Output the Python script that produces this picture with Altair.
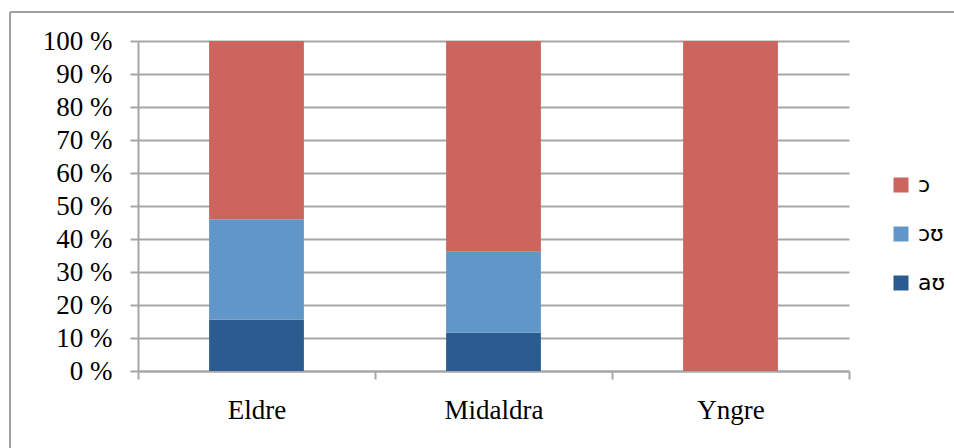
import altair as alt
import pandas as pd

# Age groups and the share of each vowel variant (percent of tokens)
groups = ["Eldre", "Midaldra", "Yngre"]
variants = ["aʊ", "ɔʊ", "ɔ"]
share_au = [15.5, 11.6, 0.0]
share_ou = [30.5, 24.5, 0.0]
share_o = [54.0, 63.9, 100.0]
colors = ["#2A5C8F", "#6196C9", "#CB655E"]
y_ticks = [0, 10, 20, 30, 40, 50, 60, 70, 80, 90, 100]

rows = []
for i, g in enumerate(groups):
    for v, vals in zip(variants, [share_au, share_ou, share_o]):
        rows.append({"gruppe": g, "variant": v, "andel": vals[i], "rekkefolge": variants.index(v)})
df = pd.DataFrame(rows)

serif = "Liberation Serif"
grid_gray = "#A6A6A6"

bars = alt.Chart(df).mark_bar(width=alt.RelativeBandSize(0.4)).encode(
    x=alt.X(
        "gruppe:N",
        sort=groups,
        title=None,
        scale=alt.Scale(paddingInner=0, paddingOuter=0),
        axis=alt.Axis(
            labelAngle=0,
            labelFont=serif,
            labelFontSize=27,
            labelColor="#000000",
            labelPadding=18,
            tickBand="extent",
            tickSize=8,
            tickWidth=2,
            tickColor=grid_gray,
            domainColor=grid_gray,
            domainWidth=2,
            grid=False,
        ),
    ),
    y=alt.Y(
        "andel:Q",
        stack="zero",
        title=None,
        scale=alt.Scale(domain=[0, 100], nice=False),
        axis=alt.Axis(
            values=y_ticks,
            labelExpr="datum.value + ' %'",
            labelFont=serif,
            labelFontSize=27,
            labelColor="#000000",
            labelPadding=18,
            tickSize=8,
            tickWidth=2,
            tickColor=grid_gray,
            domainColor=grid_gray,
            domainWidth=2,
            grid=True,
            gridColor=grid_gray,
            gridWidth=2,
        ),
    ),
    color=alt.Color(
        "variant:N",
        sort=variants,
        scale=alt.Scale(domain=variants, range=colors),
        legend=alt.Legend(
            title=None,
            orient="none",
            legendX=752,
            legendY=133,
            values=list(reversed(variants)),
            symbolType="square",
            symbolSize=225,
            symbolStrokeWidth=0,
            symbolOpacity=1,
            labelFont="DejaVu Sans",
            labelFontSize=22,
            labelColor="#000000",
            labelOffset=6,
            rowPadding=27,
        ),
    ),
    order=alt.Order("rekkefolge:Q", sort="ascending"),
)

# Outer frame around the figure (top and left edges)
frame_top = alt.Chart().mark_rule(color="#A0A0A0", strokeWidth=2).encode(
    x=alt.value(-128), x2=alt.value(830), y=alt.value(-29)
)
frame_left = alt.Chart().mark_rule(color="#A0A0A0", strokeWidth=2).encode(
    x=alt.value(-128), y=alt.value(-29), y2=alt.value(420)
)

chart = (
    alt.layer(bars, frame_top, frame_left)
    .properties(
        width=711,
        height=330,
        autosize=alt.AutoSizeParams(type="none"),
        padding={"left": 138, "top": 41, "right": 105, "bottom": 77},
        background="#FFFFFF",
    )
    .configure_view(stroke=None)
)

chart.save("out.html", embed_options={"renderer": "svg", "actions": False})
